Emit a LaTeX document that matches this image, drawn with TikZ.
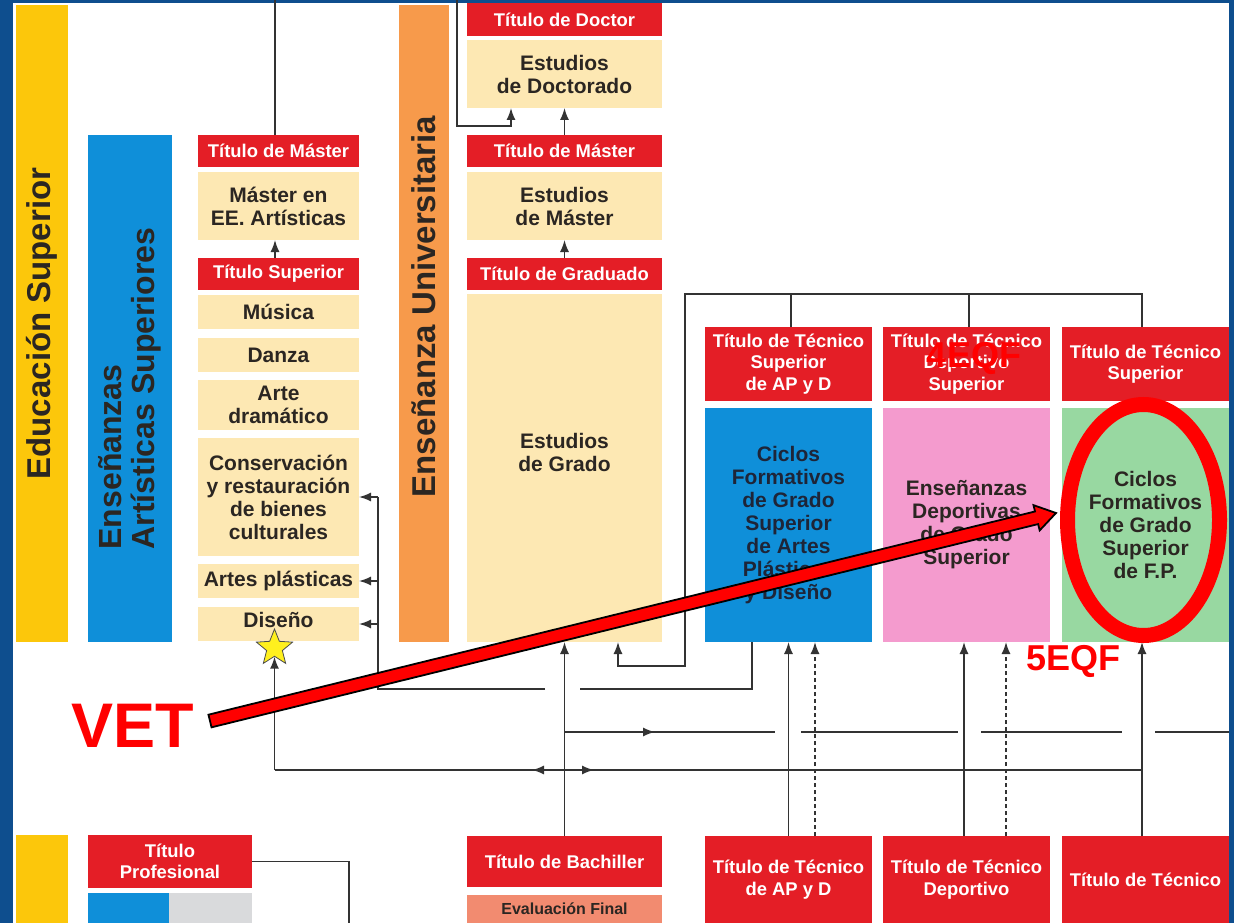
\documentclass[tikz,border=0pt]{standalone}
\usepackage{fontspec}
\setmainfont{Liberation Sans}
\usetikzlibrary{arrows.meta,calc,shapes.geometric}
\definecolor{frameblue}{HTML}{0E4E8E}
\definecolor{ybar}{HTML}{FCC70B}
\definecolor{bbar}{HTML}{0F8FD9}
\definecolor{tanbox}{HTML}{FDE8B3}
\definecolor{redbox}{HTML}{E41E26}
\definecolor{obar}{HTML}{F79A4B}
\definecolor{pinkbox}{HTML}{F49BCE}
\definecolor{greenbox}{HTML}{98D8A1}
\definecolor{salmonbox}{HTML}{F28B70}
\definecolor{greybox}{HTML}{D9DADC}
\definecolor{txt}{HTML}{2B2622}
\definecolor{navytxt}{HTML}{1E2538}
\definecolor{linec}{HTML}{333333}
\definecolor{ovred}{HTML}{FF0000}
\definecolor{staryellow}{HTML}{FFF01E}
\newcommand\mkbox[7]{\node[#1, minimum width={(#5)-(#3)}, minimum height={(#6)-(#4)}] (#2) at ({((#3)+(#5))/2},{((#4)+(#6))/2}) {#7};}
\begin{document}
\begin{tikzpicture}[x=1pt,y=-1pt,
  bx/.style={inner sep=0pt, outer sep=0pt, align=center, font=\bfseries\fontsize{21}{23}\selectfont, text=txt},
  tanb/.style={bx, fill=tanbox},
  redb/.style={bx, fill=redbox, text=white, font=\bfseries\fontsize{18.4}{21.5}\selectfont},
  bartext/.style={bx, font=\bfseries\fontsize{33}{34}\selectfont},
  ln/.style={draw=linec, line width=1.5pt},
  arr/.style={ln, -{Latex[length=12pt,width=9pt]}},
  ovtext/.style={inner sep=0pt, anchor=base, text=ovred, font=\bfseries\fontsize{36}{36}\selectfont}]
\useasboundingbox (0,0) rectangle (1234,923);
\fill[frameblue] (0,0) rectangle (1234,923);
\fill[white] (13,3) rectangle (1229,923);

% vertical bars
\node[bartext, fill=ybar, rotate=90, minimum width=637pt, minimum height=52pt, font=\bfseries\fontsize{33}{34}\selectfont] (edsup) at (42,323.5) {Educación Superior};
\node[bartext, fill=bbar, rotate=90, minimum width=507pt, minimum height=84pt, align=left, font=\bfseries\fontsize{32}{33}\selectfont] (eas) at (130,388.5) {Enseñanzas\\Artísticas Superiores};
\node[bx, fill=obar, rotate=90, minimum width=637pt, minimum height=50pt] (eu) at (424,323.5) {};
\node[bartext, rotate=90] (eut) at (424,306.5) {Enseñanza Universitaria};

% left column
\mkbox{redb}{tm1}{198}{135}{359}{167}{Título de Máster}
\mkbox{tanb}{mee}{198}{172}{359}{240}{Máster en\\EE. Artísticas}
\mkbox{redb}{ts1}{198}{258}{359}{290}{Título Superior}
\mkbox{tanb}{mus}{198}{295}{359}{329}{Música}
\mkbox{tanb}{dan}{198}{338}{359}{372}{Danza}
\mkbox{tanb}{artd}{198}{380}{359}{430}{Arte\\dramático}
\mkbox{tanb}{cons}{198}{438}{359}{556}{Conservación\\y restauración\\de bienes\\culturales}
\mkbox{tanb}{artp}{198}{564}{359}{598}{Artes plásticas}
\mkbox{tanb}{dis}{198}{607}{359}{641}{}
\node[bx] (dist) at (278.5,620) {Diseño};
\node[star, star points=5, star point ratio=2.3, fill=staryellow, draw=black!70, line width=0.8pt, minimum size=38pt, inner sep=0pt] (star) at (274.5,648) {};

% university column
\mkbox{redb}{tdoc}{467}{3}{662}{36}{Título de Doctor}
\mkbox{tanb}{edoc}{467}{40}{662}{108}{Estudios\\de Doctorado}
\mkbox{redb}{tm2}{467}{135}{662}{167}{Título de Máster}
\mkbox{tanb}{emas}{467}{172}{662}{240}{Estudios\\de Máster}
\mkbox{redb}{tgr}{467}{258}{662}{290}{Título de Graduado}
\mkbox{tanb}{egr}{467}{294}{662}{642}{}
\node[bx] (egrt) at (564.5,452) {Estudios\\de Grado};

% right columns
\mkbox{redb}{tts1}{705}{327}{872}{401}{Título de Técnico\\Superior\\de AP y D}
\mkbox{redb}{tts2}{883}{327}{1050}{401}{Título de Técnico\\Deportivo\\Superior}
\mkbox{redb}{tts3}{1062}{327}{1229}{401}{Título de Técnico\\Superior}
\mkbox{bx,fill=bbar,text=navytxt}{cap}{705}{408}{872}{642}{Ciclos\\Formativos\\de Grado\\Superior\\de Artes\\Plásticas\\y Diseño}
\mkbox{bx,fill=pinkbox}{edgs}{883}{408}{1050}{642}{Enseñanzas\\Deportivas\\de Grado\\Superior}
\mkbox{bx,fill=greenbox}{cfp}{1062}{408}{1229}{642}{Ciclos\\Formativos\\de Grado\\Superior\\de F.P.}

% bottom row
\mkbox{bx,fill=ybar}{ybot}{16}{835}{68}{923}{}
\mkbox{redb}{tprof}{88}{835}{252}{888}{Título\\Profesional}
\mkbox{bx,fill=bbar}{pblue}{88}{893}{169}{923}{}
\mkbox{bx,fill=greybox}{pgrey}{169}{893}{252}{923}{}
\mkbox{redb}{tbach}{467}{836}{662}{887}{Título de Bachiller}
\mkbox{bx,fill=salmonbox,font=\bfseries\fontsize{16}{18}\selectfont}{evf}{467}{895}{662}{923}{Evaluación Final}
\mkbox{redb}{ttb1}{705}{836}{872}{923}{Título de Técnico\\de AP y D}
\mkbox{redb}{ttb2}{883}{836}{1050}{923}{Título de Técnico\\Deportivo}
\mkbox{redb}{ttb3}{1062}{836}{1229}{923}{Título de Técnico}

% connectors
\draw[ln] ([xshift=-3.5pt]tm1.north) -- ++(0,-140);
\draw[arr] ([xshift=-3.5pt]ts1.north) -- ([xshift=-3.5pt]mee.south);
\coordinate (d1) at (457,0);
\coordinate (d2) at (511,126);
\draw[arr] (d1) |- (d2) -- (d2 |- edoc.south);
\draw[arr] (tm2.north) -- (edoc.south);
\draw[arr] (tgr.north) -- (emas.south);
\draw[arr] (tbach.north) -- (egr.south);

\coordinate (j1) at (685,294);
\coordinate (j2) at (685,666);
\draw[arr] ([xshift=-3.5pt]tts3.north) |- (j1) -- (j2) -| ([xshift=53.5pt]egr.south);
\draw[ln] ([xshift=2.5pt]tts1.north) -- ([xshift=2.5pt]tts1.north |- j1);
\draw[ln] ([xshift=2.5pt]tts2.north) -- ([xshift=2.5pt]tts2.north |- j1);

\coordinate (k1) at (378,497);
\coordinate (k2) at (580,689);
\coordinate (k3) at (545,689);
\draw[ln] ([xshift=-36.5pt]cap.south) |- (k2);
\draw[ln] (k3) -| (k1);
\draw[arr] (k1) -- (cons.east);
\draw[arr] (k1 |- artp.east) -- (artp.east);
\draw[arr] (k1 |- dis.east) -- (dis.east);

\coordinate (b732) at (564.5,732);
\draw[arr] (b732) -- (655,732);
\draw[ln] (652,732) -- (775,732);
\draw[ln] (801,732) -- (958,732);
\draw[ln] (981,732) -- (1122,732);
\draw[ln] (1155,732) -- (1229,732);

\coordinate (s770) at (274.5,770);
\coordinate (e770) at (1142,770);
\draw[ln] (s770) -- (e770);
\draw[arr] (s770) -- (star.south);
\draw[arr] (556,770) -- (532,770);
\draw[arr] (570,770) -- (594,770);

\draw[arr] (ttb1.north) -- (cap.south);
\draw[arr, dash pattern=on 4pt off 3pt] ([xshift=26.5pt]ttb1.north) -- ([xshift=26.5pt]cap.south);
\draw[arr] ([xshift=-2.5pt]ttb2.north) -- ([xshift=-2.5pt]edgs.south);
\draw[arr, dash pattern=on 4pt off 3pt] ([xshift=39.5pt]ttb2.north) -- ([xshift=39.5pt]edgs.south);
\draw[arr] ([xshift=-3.5pt]ttb3.north) -- ([xshift=-3.5pt]cfp.south);

\draw[ln] (tprof.east) -| (349,923);

% overlay
\node[draw=ovred, line width=15pt, ellipse, minimum width=152pt, minimum height=231pt, inner sep=0pt] (oval) at (1143.5,520) {};
\node[ovtext, font=\bfseries\fontsize{63}{63}\selectfont] (vet) at (133,747) {VET};
\node[ovtext] (q4) at (974,367) {4EQF};
\node[ovtext] (q5) at (1073.5,670) {5EQF};
\coordinate (va) at (210,721);
\coordinate (vb) at (1056,513);
\coordinate (vh) at ($(vb)!20pt!(va)$);
\filldraw[fill=ovred, draw=black, line width=1.8pt, line join=miter]
  ($(va)!6.5pt!90:(vb)$) -- ($(vh)!6.5pt!90:(vb)$) -- ($(vh)!13pt!90:(vb)$) -- (vb)
  -- ($(vh)!13pt!-90:(vb)$) -- ($(vh)!6.5pt!-90:(vb)$) -- ($(va)!6.5pt!-90:(vb)$) -- cycle;
\end{tikzpicture}
\end{document}
